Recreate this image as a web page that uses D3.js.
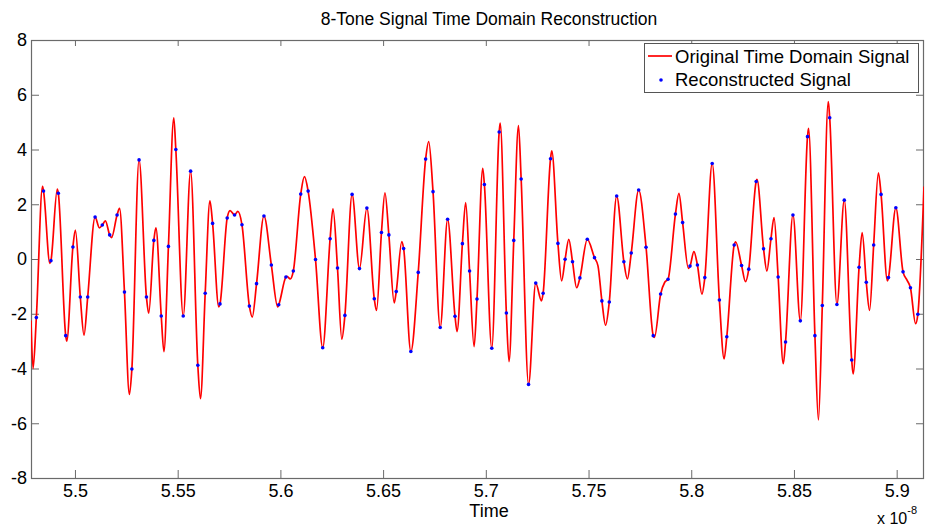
<!DOCTYPE html>
<html><head><meta charset="utf-8">
<script src="https://cdn.jsdelivr.net/npm/d3@7"></script>
<style>
body{margin:0;background:#fff}
svg{display:block}
text{font-family:"Liberation Sans",Arial,Helvetica,sans-serif;fill:#000}
</style>
</head><body>
<svg id="chart" width="925" height="527"></svg>
<script>
// ---- data (time in units of 1e-8 s) ----
const sampleTime = [
5.4812,5.4847,5.4883,5.4919,5.4955,5.4990,5.5026,5.5062,5.5098,5.5133,
5.5169,5.5205,5.5241,5.5277,5.5312,5.5348,5.5384,5.5420,5.5455,5.5491,
5.5527,5.5563,5.5598,5.5634,5.5670,5.5706,5.5741,5.5777,5.5813,5.5849,
5.5884,5.5920,5.5956,5.5992,5.6027,5.6063,5.6099,5.6135,5.6171,5.6206,
5.6242,5.6278,5.6314,5.6349,5.6385,5.6421,5.6457,5.6492,5.6528,5.6564,
5.6600,5.6635,5.6671,5.6707,5.6743,5.6778,5.6814,5.6850,5.6886,5.6921,
5.6957,5.6993,5.7029,5.7065,5.7100,5.7136,5.7172,5.7208,5.7243,5.7279,
5.7315,5.7351,5.7386,5.7422,5.7458,5.7494,5.7529,5.7565,5.7601,5.7637,
5.7672,5.7708,5.7744,5.7780,5.7815,5.7851,5.7887,5.7923,5.7958,5.7994,
5.8030,5.8066,5.8102,5.8137,5.8173,5.8209,5.8245,5.8280,5.8316,5.8352,
5.8388,5.8423,5.8459,5.8495,5.8531,5.8566,5.8602,5.8638,5.8674,5.8709,
5.8745,5.8781,5.8817,5.8852,5.8888,5.8924,5.8960,5.8996,5.9031,5.9067,
5.9103];
const sampleValue = [
-2.14,2.48,-0.06,2.40,-2.80,0.44,-1.39,-1.39,1.53,1.24,
0.88,1.61,-1.21,-4.02,3.62,-1.39,0.68,-2.08,0.46,4.00,
-2.08,3.21,-3.88,-1.25,1.30,-1.64,1.50,1.61,1.25,-1.72,
-0.90,1.57,-0.22,-1.67,-0.66,-0.44,2.37,2.48,-0.02,-3.24,
0.74,-0.33,-2.06,2.36,-0.35,1.86,-1.45,0.97,0.88,-1.19,
0.38,-3.38,-0.49,3.65,2.46,-2.50,1.45,-2.09,0.56,-0.44,
-1.46,2.72,-3.26,4.64,-1.97,0.68,2.92,-4.58,-0.88,-1.25,
3.66,0.57,-0.01,-0.10,-0.69,0.72,0.05,-1.53,-1.57,2.30,
-0.10,0.22,2.52,0.43,-2.80,-1.28,-0.74,1.64,1.33,-0.26,
-0.22,-0.68,3.49,-1.50,-2.84,0.51,-0.24,-0.37,2.83,0.37,
0.74,-0.66,-3.03,1.61,-2.26,4.47,-2.80,-1.70,5.16,-1.66,
2.15,-3.69,-0.30,-0.85,0.51,2.36,-0.68,1.87,-0.47,-1.05,
-2.02];
// turning points of the continuous signal between samples
const curveTime = [
5.4786,5.4796,5.4842,5.4878,5.4914,5.4960,5.5002,5.5044,5.5119,5.5148,
5.5178,5.5217,5.5265,5.5359,5.5394,5.5433,5.5481,5.5611,5.5657,5.5700,
5.5755,5.5793,5.5863,5.5987,5.6032,5.6048,5.6117,5.6256,5.6299,5.6468,
5.6509,5.6554,5.6591,5.6722,5.6860,5.6902,5.6943,5.6985,5.7070,5.7113,
5.7159,5.7271,5.7321,5.7369,5.7404,5.7442,5.7546,5.7583,5.7689,5.7821,
5.7871,5.7940,5.7986,5.8013,5.8052,5.8160,5.8216,5.8264,5.8320,5.8368,
5.8403,5.8448,5.8571,5.8619,5.8667,5.8788,5.8832,5.8868,5.8911,5.8955,
5.9051,5.9092,5.9133];
const curveValue = [
-2.25,-4.00,2.65,-0.16,2.55,-3.00,1.06,-2.78,1.14,1.39,
0.78,1.85,-4.95,-1.98,1.14,-3.38,5.16,-5.10,2.12,-1.75,
1.77,1.74,-2.12,-1.75,-0.63,-0.73,3.01,1.83,-2.93,-1.88,
2.42,-1.60,0.64,4.29,-2.65,2.06,-3.20,3.31,4.96,-3.75,
4.87,-1.53,3.95,-0.80,0.72,-1.05,-0.25,-2.42,-0.73,-2.86,
-0.85,2.40,-0.34,0.27,-1.28,-3.65,0.63,-0.83,2.91,-0.44,
1.51,-3.82,4.77,-5.88,5.75,-4.20,0.96,-1.88,3.15,-0.80,
-0.78,-2.36,2.65];

const xDomain = [5.4786, 5.9133];
const yDomain = [-8, 8];
const xTicks = [5.5,5.55,5.6,5.65,5.7,5.75,5.8,5.85,5.9];
const xTickLabels = ["5.5","5.55","5.6","5.65","5.7","5.75","5.8","5.85","5.9"];
const yTicks = [-8,-6,-4,-2,0,2,4,6,8];
const yTickLabels = ["-8","-6","-4","-2","0","2","4","6","8"];
const titleText = "8-Tone Signal Time Domain Reconstruction";
const xLabelText = "Time";
const legendLabels = ["Original Time Domain Signal","Reconstructed Signal"];

// ---- layout ----
const W = 925, H = 527;
const P = {l:31, r:924, t:40, b:478};
const axisColor = "#6a6a6a";

const x = d3.scaleLinear().domain(xDomain).range([P.l, P.r]);
const y = d3.scaleLinear().domain(yDomain).range([P.b, P.t]);

const svg = d3.select("#chart");
svg.append("rect").attr("width",W).attr("height",H).attr("fill","#fff");
svg.append("defs").append("clipPath").attr("id","plotclip")
  .append("rect").attr("x",P.l).attr("y",P.t).attr("width",P.r-P.l).attr("height",P.b-P.t);

// axes
function styleAxis(g){
  g.select(".domain").remove();
  g.selectAll(".tick line").attr("stroke",axisColor).attr("stroke-width",1);
  g.selectAll(".tick text").style("font-size","18px").attr("fill","#000");
}
const fmtX = d => xTickLabels[xTicks.indexOf(d)];
const fmtY = d => yTickLabels[yTicks.indexOf(d)];

svg.append("g").attr("transform",`translate(0,${P.b})`)
  .call(d3.axisBottom(x).tickValues(xTicks).tickFormat(fmtX).tickSizeInner(-8).tickSizeOuter(0).tickPadding(6))
  .call(styleAxis);
svg.append("g").attr("transform",`translate(0,${P.t})`)
  .call(d3.axisTop(x).tickValues(xTicks).tickFormat("").tickSizeInner(-6).tickSizeOuter(0))
  .call(styleAxis);
svg.append("g").attr("transform",`translate(${P.l},0)`)
  .call(d3.axisLeft(y).tickValues(yTicks).tickFormat(fmtY).tickSizeInner(-8).tickSizeOuter(0).tickPadding(4))
  .call(styleAxis);
svg.append("g").attr("transform",`translate(${P.r},0)`)
  .call(d3.axisRight(y).tickValues(yTicks).tickFormat("").tickSizeInner(-8).tickSizeOuter(0))
  .call(styleAxis);

svg.append("rect").attr("x",P.l+0.5).attr("y",P.t+0.5).attr("width",P.r-P.l-1).attr("height",P.b-P.t)
  .attr("fill","none").attr("stroke",axisColor).attr("stroke-width",1.2);

// signal line
const pts = sampleTime.map((t,i)=>[t,sampleValue[i]])
  .concat(curveTime.map((t,i)=>[t,curveValue[i]]))
  .sort((a,b)=>a[0]-b[0]);
const line = d3.line().x(d=>x(d[0])).y(d=>y(d[1])).curve(d3.curveMonotoneX);
svg.append("path").datum(pts).attr("clip-path","url(#plotclip)")
  .attr("d",line).attr("fill","none").attr("stroke","#ff0000").attr("stroke-width",1.7)
  .attr("stroke-linejoin","round");

// samples
svg.append("g").selectAll("circle").data(sampleTime).join("circle")
  .attr("cx",(d)=>x(d)).attr("cy",(d,i)=>y(sampleValue[i])).attr("r",1.8).attr("fill","#0000ff");

// title & labels
svg.append("text").attr("x",489).attr("y",25).attr("text-anchor","middle")
  .style("font-size","17.5px").text(titleText);
svg.append("text").attr("x",489).attr("y",517).attr("text-anchor","middle")
  .style("font-size","18px").text(xLabelText);
const ex = svg.append("text").attr("x",877).attr("y",524).style("font-size","16px");
ex.append("tspan").text("x 10");
ex.append("tspan").attr("dy",-10).style("font-size","11px").text("-8");

// legend
const lg = svg.append("g");
lg.append("rect").attr("x",644.5).attr("y",43.5).attr("width",274).attr("height",49)
  .attr("fill","#fff").attr("stroke","#555").attr("stroke-width",1);
lg.append("line").attr("x1",648).attr("x2",672).attr("y1",56).attr("y2",56)
  .attr("stroke","#ff0000").attr("stroke-width",1.7);
lg.append("circle").attr("cx",661).attr("cy",80).attr("r",1.8).attr("fill","#0000ff");
lg.append("text").attr("x",675).attr("y",63).style("font-size","18.5px").text(legendLabels[0]);
lg.append("text").attr("x",675).attr("y",86).style("font-size","18.5px").text(legendLabels[1]);
</script>
</body></html>
